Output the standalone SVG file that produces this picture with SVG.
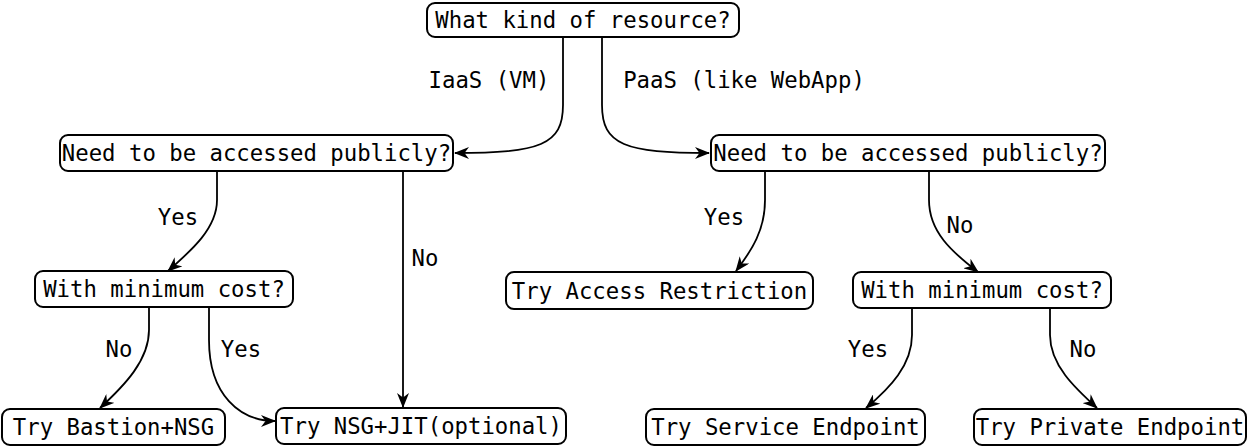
<svg xmlns="http://www.w3.org/2000/svg" width="1251" height="447" viewBox="0 0 1251 447">
<style>
.box{fill:#fff;stroke:#000;stroke-width:2}
.t{font-family:"DejaVu Sans Mono","Liberation Mono",monospace;font-size:22.3px;fill:#000;text-anchor:middle;dominant-baseline:central}
.c{fill:none;stroke:#000;stroke-width:1.8;marker-end:url(#ah)}
</style>
<defs>
<marker id="ah" viewBox="0 0 15 12" refX="14" refY="6" markerWidth="15" markerHeight="12" markerUnits="userSpaceOnUse" orient="auto">
<path d="M0,0 L15,6 L0,12 L4.5,6 z" fill="#000"/>
</marker>
</defs>
<rect width="1251" height="447" fill="#fff"/>
<g id="connectors">
<path class="c" d="M563,37 V105 C563,145 540,153 455,153"/>
<path class="c" d="M602,37 V105 C602,145 625,153 709,153"/>
<path class="c" d="M217,171 V200 C217,228 192,250 168,271"/>
<path class="c" d="M403,171 V407"/>
<path class="c" d="M765,171 V200 C765,230 752,250 736,271"/>
<path class="c" d="M929,171 V200 C929,232 952,252 978,272"/>
<path class="c" d="M149,307 V330 C149,360 125,385 100,408"/>
<path class="c" d="M209,307 V340 C209,395 240,421 275,421"/>
<path class="c" d="M912,308 V335 C912,365 890,388 866,408"/>
<path class="c" d="M1050,308 V335 C1050,365 1075,388 1097,408"/>
<text class="t" x="489" y="80">IaaS (VM)</text>
<text class="t" x="744" y="80">PaaS (like WebApp)</text>
<text class="t" x="178" y="217">Yes</text>
<text class="t" x="425" y="258">No</text>
<text class="t" x="724" y="217">Yes</text>
<text class="t" x="960" y="225">No</text>
<text class="t" x="119" y="349">No</text>
<text class="t" x="241" y="349">Yes</text>
<text class="t" x="868" y="349">Yes</text>
<text class="t" x="1083" y="349">No</text>
</g>
<g id="n-resource"><rect class="box" x="427" y="3" width="312" height="34" rx="8"/><text class="t" x="583" y="20">What kind of resource?</text></g>
<g id="n-iaas-public"><rect class="box" x="60" y="135" width="393" height="36" rx="8"/><text class="t" x="256.5" y="153">Need to be accessed publicly?</text></g>
<g id="n-paas-public"><rect class="box" x="711" y="135" width="394" height="36" rx="8"/><text class="t" x="908" y="153">Need to be accessed publicly?</text></g>
<g id="n-iaas-cost"><rect class="box" x="35" y="271" width="258" height="36" rx="8"/><text class="t" x="164" y="289">With minimum cost?</text></g>
<g id="n-access-restriction"><rect class="box" x="506" y="272" width="307" height="37" rx="8"/><text class="t" x="659.5" y="291">Try Access Restriction</text></g>
<g id="n-paas-cost"><rect class="box" x="853" y="272" width="258" height="36" rx="8"/><text class="t" x="982" y="290">With minimum cost?</text></g>
<g id="n-bastion"><rect class="box" x="2" y="409" width="223" height="36" rx="8"/><text class="t" x="113.5" y="427">Try Bastion+NSG</text></g>
<g id="n-nsg-jit"><rect class="box" x="276" y="408" width="290" height="36" rx="8"/><text class="t" x="421" y="426">Try NSG+JIT(optional)</text></g>
<g id="n-service-endpoint"><rect class="box" x="646" y="409" width="279" height="36" rx="8"/><text class="t" x="785.5" y="427">Try Service Endpoint</text></g>
<g id="n-private-endpoint"><rect class="box" x="974" y="409" width="272" height="36" rx="8"/><text class="t" x="1110" y="427">Try Private Endpoint</text></g>
</svg>
